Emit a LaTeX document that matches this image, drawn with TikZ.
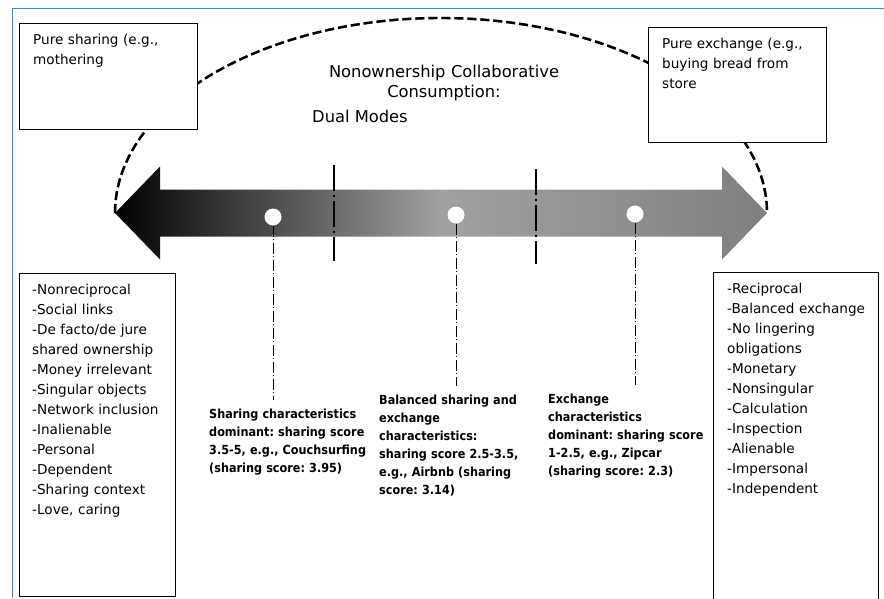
\documentclass[tikz,border=0pt]{standalone}
\usepackage{fontspec}
\setmainfont{DejaVu Sans}
\newfontfamily\scorefont{DejaVu Sans Condensed}
\usetikzlibrary{positioning,shapes.arrows,calc}
\definecolor{framecol}{RGB}{79,129,189}
\frenchspacing

\begin{document}
\begin{tikzpicture}[
		x=1pt,y=-1pt,
		box/.style={draw,fill=white,line width=0.9pt,inner sep=0pt,anchor=north west},
		list/.style={inner sep=0pt,anchor=base west,align=left,text width=160pt,font=\fontsize{13.6}{20}\selectfont},
		score/.style={inner sep=0pt,anchor=base west,align=left,text width=175pt,font=\scorefont\bfseries\fontsize{12.5}{18}\selectfont},
		dot/.style={circle,fill=white,inner sep=0pt,minimum size=17pt},
		split/.style={line width=2pt,dash pattern=on 26pt off 4pt on 2pt off 4pt},
		drop/.style={line width=0.6pt,dash pattern=on 11pt off 2.5pt on 1pt off 2.5pt,shorten >=8pt},
		dome/.style={line width=2.4pt,dash pattern=on 9pt off 4pt}
		]
		\useasboundingbox (0,0) rectangle (884,598);
		\clip (0,0) rectangle (884,598);
		% frame
		\draw[framecol,line width=1pt] (12,598) -- (12,8) -- (884,8);

		% the two-headed axis
		\coordinate (ltip) at (115,213);
		\coordinate (rtip) at (767,213);
		\coordinate (top) at (440.5,18);
		\shade[left color=black,right color=black!50,middle color=black!37]
			(ltip) -- ++(45,-46.5) -- ++(0,23) -- (722,189.5) -- ++(0,-23) -- (rtip) -- ++(-45,46.5) -- ++(0,-23)
			-- (160,236.5) -- ++(0,23) -- cycle;
		% dashed dome between the heads
		\draw[dome,gray,xshift=1pt,yshift=-1.5pt] (ltip) .. controls +(0,-107) and +(-180,0) .. (top)
			.. controls +(180,0) and +(0,-107) .. (rtip);
		\draw[dome] (ltip) .. controls +(0,-107) and +(-180,0) .. (top)
			.. controls +(180,0) and +(0,-107) .. (rtip);

		% zone borders
		\draw[split] (334,165) -- (334,261);
		\draw[split] (536,169) -- (536,264);

		% scores on the axis
		\node[dot] (d1) at (273,217) {};
		\node[dot] (d2) at (456,215) {};
		\node[dot] (d3) at (635,214) {};
		\node[score] (t1) at (209,418) {Sharing characteristics\\dominant: sharing score\\3.5-5, e.g., Couchsurfing\\(sharing score: 3.95)};
		\node[score] (t2) at (379,404) {Balanced sharing and\\exchange\\characteristics:\\sharing score 2.5-3.5,\\e.g., Airbnb (sharing\\score: 3.14)};
		\node[score] (t3) at (548,403) {Exchange\\characteristics\\dominant: sharing score\\1-2.5, e.g., Zipcar\\(sharing score: 2.3)};
		\draw[drop] (d1.south) -- (d1 |- t1.north);
		\draw[drop] (d2.south) -- (d2 |- t2.north);
		\draw[drop] (d3.south) -- (d3 |- t3.north);

		% top boxes
		\node[box,minimum width=178pt,minimum height=106pt] (ps) at (19,23) {};
		\node[list] (pstext) at (33,44) {Pure sharing (e.g.,\\mothering};
		\node[box,minimum width=178pt,minimum height=115pt] (pe) at (648,27) {};
		\node[list] (petext) at (662,48) {Pure exchange (e.g.,\\buying bread from\\store};

		% title
		\node[inner sep=0pt,anchor=base,align=center,text width=300pt,font=\fontsize{16.3}{20}\selectfont] (title) at (444,77)
			{Nonownership Collaborative\\Consumption:};
		\node[inner sep=0pt,anchor=base west,font=\fontsize{16.3}{20}\selectfont] (modes) at (312,122) {Dual Modes};

		% bottom boxes
		\node[box,minimum width=156pt,minimum height=323pt] (sh) at (19,273) {};
		\node[list] (shtext) at (32,294) {-Nonreciprocal\\-Social links\\-De facto/de jure\\shared ownership\\-Money irrelevant\\-Singular objects\\-Network inclusion\\-Inalienable\\-Personal\\-Dependent\\-Sharing context\\-Love, caring};
		\node[box,minimum width=165pt,minimum height=340pt] (ex) at (713,272) {};
		\node[list] (extext) at (727,293) {-Reciprocal\\-Balanced exchange\\-No lingering\\obligations\\-Monetary\\-Nonsingular\\-Calculation\\-Inspection\\-Alienable\\-Impersonal\\-Independent};
	\end{tikzpicture}
\end{document}
